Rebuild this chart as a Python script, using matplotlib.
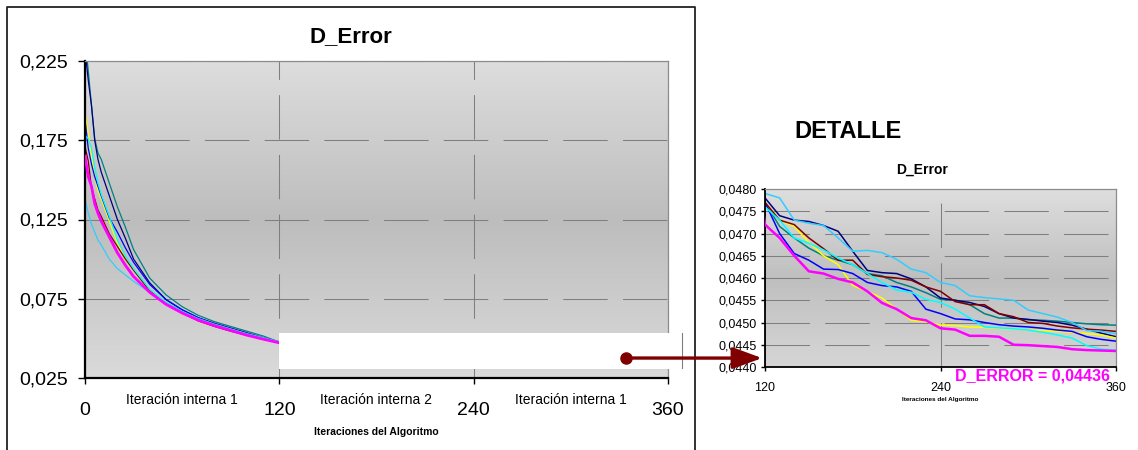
import numpy as np
import matplotlib
matplotlib.use('Agg')
import matplotlib.pyplot as plt
from matplotlib.colors import LinearSegmentedColormap
from matplotlib.patches import Rectangle, ConnectionPatch
from matplotlib.lines import Line2D

plt.rcParams['font.family'] = ['Liberation Sans', 'DejaVu Sans']
plt.rcParams['lines.scale_dashes'] = False

# -------------------------------
# Data (D_Error per iteration, 8 runs)
# -------------------------------
iteraciones = [0, 2, 4, 6, 8, 10, 15, 20, 25, 30, 40, 50, 60, 70, 80, 90, 100, 110, 120,
               130, 140, 150, 160, 170, 180, 190, 200, 210, 220, 230, 240,
               250, 260, 270, 280, 290, 300, 310, 320, 330, 340, 350, 360]

teal = [0.240, 0.219, 0.197, 0.176, 0.167, 0.163, 0.148, 0.133, 0.120, 0.106, 0.088, 0.0775, 0.0700,
        0.0645, 0.0605, 0.0575, 0.0545, 0.0515, 0.0477,
        0.04716, 0.0469, 0.04667, 0.0465, 0.0464, 0.0463, 0.0461, 0.04605, 0.0459, 0.0458, 0.04567, 0.04552,
        0.0455, 0.0454, 0.0452, 0.0451, 0.0451, 0.04506, 0.04505, 0.04503, 0.0450, 0.04497, 0.04495, 0.04494]
navy = [0.232, 0.213, 0.197, 0.175, 0.163, 0.155, 0.140, 0.125, 0.113, 0.100, 0.085, 0.0745, 0.068,
        0.063, 0.0595, 0.0565, 0.0535, 0.0505, 0.0478,
        0.0474, 0.0473, 0.04727, 0.04718, 0.04705, 0.0466, 0.04617, 0.04612, 0.0461, 0.04598, 0.0458, 0.04555,
        0.0455, 0.04545, 0.04536, 0.0452, 0.0451, 0.04507, 0.04503, 0.0450, 0.04494, 0.04485, 0.04476, 0.04468]
amarillo = [0.192, 0.180, 0.165, 0.152, 0.143, 0.138, 0.124, 0.110, 0.100, 0.093, 0.081, 0.073, 0.0665,
            0.062, 0.0585, 0.0555, 0.0525, 0.050, 0.0477,
            0.0473, 0.04716, 0.0468, 0.0465, 0.0463, 0.04583, 0.0457, 0.04555, 0.0453, 0.04505, 0.04502, 0.04494,
            0.04493, 0.0449, 0.04489, 0.04487, 0.04486, 0.04483, 0.04482, 0.0448, 0.04478, 0.04475, 0.04472, 0.04465]
azul = [0.188, 0.170, 0.160, 0.152, 0.146, 0.140, 0.126, 0.117, 0.107, 0.098, 0.084, 0.0745, 0.068,
        0.063, 0.059, 0.056, 0.053, 0.050, 0.0477,
        0.0470, 0.04655, 0.0464, 0.0462, 0.04619, 0.0461, 0.0459, 0.04583, 0.0458, 0.0457, 0.0453, 0.0452,
        0.04508, 0.04506, 0.0450, 0.04495, 0.04492, 0.0449, 0.04487, 0.04483, 0.0448, 0.04468, 0.04462, 0.04458]
granate = [0.171, 0.162, 0.145, 0.138, 0.131, 0.127, 0.116, 0.108, 0.100, 0.093, 0.080, 0.0715, 0.066,
           0.061, 0.0575, 0.0545, 0.052, 0.0495, 0.0477,
           0.0473, 0.0472, 0.0469, 0.04666, 0.0464, 0.0464, 0.04608, 0.04603, 0.0460, 0.04595, 0.0458, 0.0457,
           0.04547, 0.0454, 0.0454, 0.0452, 0.04513, 0.0450, 0.04498, 0.04492, 0.04488, 0.04485, 0.04483, 0.0448]
cian = [0.178, 0.176, 0.170, 0.158, 0.148, 0.141, 0.127, 0.112, 0.102, 0.094, 0.081, 0.073, 0.067,
        0.062, 0.0585, 0.0555, 0.0525, 0.050, 0.0476,
        0.0473, 0.0469, 0.04678, 0.04663, 0.04645, 0.0463, 0.0461, 0.0459, 0.04573, 0.04568, 0.04552, 0.04545,
        0.0453, 0.0451, 0.0449, 0.04488, 0.04486, 0.04483, 0.04478, 0.04472, 0.04465, 0.04448, 0.0444, 0.04438]
celeste = [0.138, 0.129, 0.122, 0.117, 0.112, 0.109, 0.100, 0.094, 0.090, 0.086, 0.079, 0.0725, 0.067,
           0.0625, 0.059, 0.056, 0.053, 0.0505, 0.0479,
           0.0478, 0.0473, 0.04723, 0.04718, 0.0469, 0.0466, 0.04662, 0.04657, 0.04642, 0.0462, 0.04612, 0.0459,
           0.04583, 0.0456, 0.04556, 0.04553, 0.0455, 0.04528, 0.0452, 0.04512, 0.0450, 0.04482, 0.0448, 0.04475]
magenta = [0.165, 0.152, 0.146, 0.135, 0.129, 0.124, 0.114, 0.104, 0.096, 0.089, 0.079, 0.0715, 0.066,
           0.0615, 0.058, 0.055, 0.052, 0.0495, 0.0472,
           0.0469, 0.0465, 0.04615, 0.0461, 0.04598, 0.0459, 0.0457, 0.04544, 0.0453, 0.0451, 0.04505, 0.04487,
           0.04484, 0.0447, 0.0447, 0.04468, 0.0445, 0.04449, 0.04447, 0.04445, 0.0444, 0.04438, 0.04437, 0.04436]

series = [(teal, '#008080'), (navy, '#000080'), (amarillo, '#FFFF00'), (azul, '#0000FF'),
          (granate, '#800000'), (cian, '#00FFFF'), (celeste, '#33CCFF'), (magenta, '#FF00FF')]

yticks_main = [0.025, 0.075, 0.125, 0.175, 0.225]
ylabels_main = ['0,025', '0,075', '0,125', '0,175', '0,225']
xticks_main = [0, 120, 240, 360]
fases = [(60, 'Iteración interna 1'), (180, 'Iteración interna 2'), (300, 'Iteración interna 1')]

yticks_det = [0.0440, 0.0445, 0.0450, 0.0455, 0.0460, 0.0465, 0.0470, 0.0475, 0.0480]
ylabels_det = ['0,0440', '0,0445', '0,0450', '0,0455', '0,0460', '0,0465', '0,0470', '0,0475', '0,0480']
xticks_det = [120, 240, 360]

W, H = 1138, 450
fig = plt.figure(figsize=(W / 100, H / 100), dpi=100)
ax = fig.add_axes([85 / W, 72 / H, 583 / W, 317 / H])
axd = fig.add_axes([765 / W, 83 / H, 351 / W, 178 / H])


def fondo(a, cols):
    cmap = LinearSegmentedColormap.from_list('g', cols)
    grad = np.linspace(0, 1, 256).reshape(-1, 1)
    a.imshow(grad, cmap=cmap, extent=[0, 1, 0, 1], transform=a.transAxes,
             aspect='auto', zorder=0, interpolation='bilinear')


def estilo(a, lw_axis):
    a.set_axisbelow(True)
    a.grid(True, color='#7f7f7f', lw=0.75, ls=(0, (32, 11)))
    for s in ['top', 'right']:
        a.spines[s].set_color('#8c8c8c')
        a.spines[s].set_linewidth(0.9)
    for s in ['left', 'bottom']:
        a.spines[s].set_color('#000000')
        a.spines[s].set_linewidth(lw_axis)


# -------------------------------
# Main chart
# -------------------------------
fondo(ax, ['#dddddd', '#bdbdbd', '#dadada'])
for vals, col in series:
    lw = 2.0 if col == '#FF00FF' else 0.9
    ax.plot(iteraciones, vals, color=col, lw=lw, zorder=3 if col == '#FF00FF' else 2)
ax.set_xlim(0, 360)
ax.set_ylim(0.025, 0.225)
ax.set_yticks(yticks_main)
ax.set_yticklabels(ylabels_main)
ax.set_xticks(xticks_main)
ax.set_xticklabels([str(t) for t in xticks_main])
estilo(ax, 1.6)
ax.tick_params(axis='y', direction='out', length=5, width=1, labelsize=14, pad=7)
ax.tick_params(axis='x', direction='out', length=4, width=1, labelsize=14, pad=13)

for xm, txt in fases:
    ax.text(xm, -0.069, txt, transform=ax.get_xaxis_transform(), ha='center', va='center', fontsize=10)
ax.text(0.5, -0.17, 'Iteraciones del Algoritmo', transform=ax.transAxes,
        ha='center', va='center', fontsize=7.5, fontweight='bold')

# white box pasted over the tail of the curves
ax.add_patch(Rectangle((119.6, 0.0307), 241.8, 0.0227, facecolor='white', edgecolor='none',
                       zorder=4, clip_on=False))
ax.add_line(Line2D([368.6, 368.6], [0.0313, 0.0532], color='#808080', lw=0.8, zorder=5, clip_on=False))

# -------------------------------
# Detail chart
# -------------------------------
fondo(axd, ['#dedede', '#bfbfbf', '#d6d6d6'])
for vals, col in series:
    lw = 1.8 if col == '#FF00FF' else 1.1
    axd.plot(iteraciones, vals, color=col, lw=lw, zorder=3 if col == '#FF00FF' else 2)
axd.set_xlim(120, 360)
axd.set_ylim(0.0440, 0.0480)
axd.set_yticks(yticks_det)
axd.set_yticklabels(ylabels_det)
axd.set_xticks(xticks_det)
axd.set_xticklabels([str(t) for t in xticks_det])
estilo(axd, 1.3)
axd.tick_params(axis='both', direction='out', length=3, width=1, labelsize=9, pad=3)
axd.tick_params(axis='x', pad=8)
axd.text(0.5, -0.18, 'Iteraciones del Algoritmo', transform=axd.transAxes,
         ha='center', va='center', fontsize=4.6, fontweight='bold')
axd.text(0.761, -0.05, 'D_ERROR = 0,04436', transform=axd.transAxes, ha='center', va='center',
         fontsize=11.5, fontweight='bold', color='#FF00FF', clip_on=False, zorder=6)

# titles
fig.text(351 / W, 1 - 37 / H, 'D_Error', ha='center', va='center', fontsize=16, fontweight='bold')
fig.text(848 / W, 1 - 132 / H, 'DETALLE', ha='center', va='center', fontsize=17, fontweight='bold')
fig.text(922 / W, 1 - 170 / H, 'D_Error', ha='center', va='center', fontsize=10, fontweight='bold')

# outer frame of the main chart
fig.add_artist(Line2D([7 / W, 7 / W, 695 / W, 695 / W], [-0.02, 1 - 7 / H, 1 - 7 / H, -0.02],
                      transform=fig.transFigure, color='#222222', lw=1.3))

# arrow from the hidden tail to the detail
ax.plot([334], [0.0376], 'o', ms=8, color='#800000', clip_on=False, zorder=7)
arrow = ConnectionPatch(xyA=(334, 0.0376), coordsA=ax.transData,
                        xyB=(118, 0.0442), coordsB=axd.transData,
                        arrowstyle='-|>,head_length=0.9,head_width=0.33', mutation_scale=20,
                        color='#800000', lw=2.4, zorder=7)
fig.add_artist(arrow)

fig.savefig('out.png', dpi=100)
